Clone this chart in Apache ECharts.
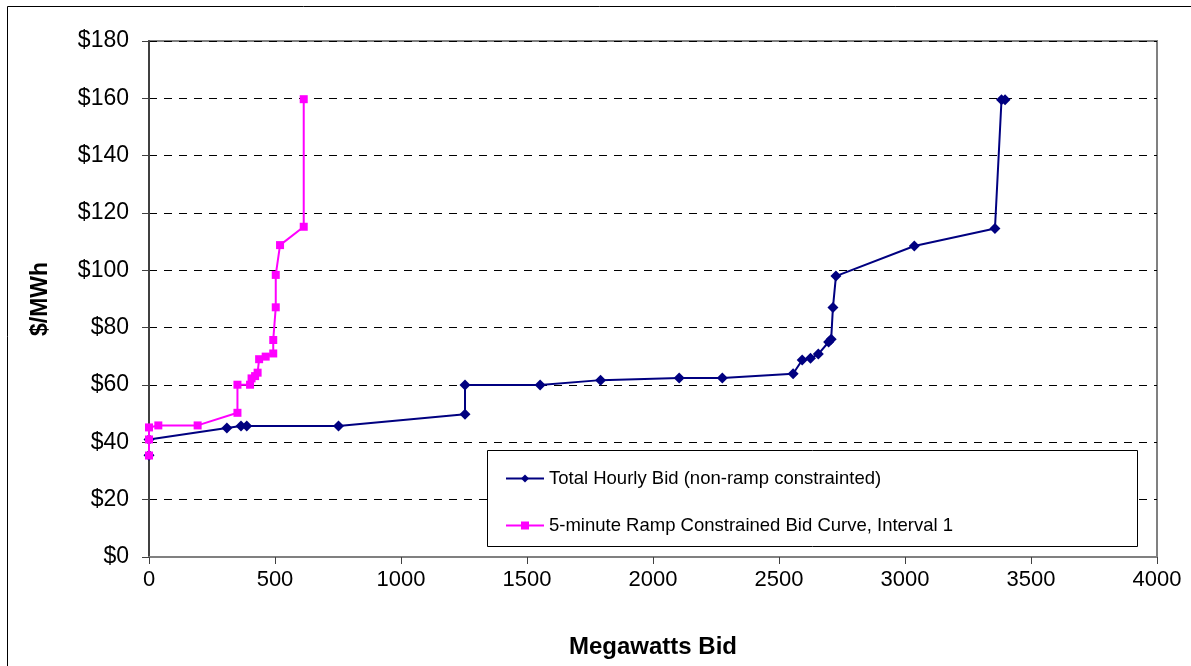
<!DOCTYPE html>
<html>
<head>
<meta charset="utf-8">
<script src="https://cdn.jsdelivr.net/npm/echarts@6/dist/echarts.min.js"></script>
<style>
html,body{margin:0;padding:0;background:#fff;}
#chart{width:1191px;height:666px;}
</style>
</head>
<body>
<div id="chart"></div>
<script>
// Total Hourly Bid (non-ramp constrainted)
const hourlyMW = [0, 0, 309, 365, 388, 752, 1254, 1254, 1552, 1792, 2104, 2275, 2556, 2592, 2625, 2656, 2697, 2707, 2714, 2726, 3037, 3357, 3383, 3397];
const hourlyPrice = [35.5, 41, 45, 45.7, 45.7, 45.7, 49.8, 60, 60, 61.7, 62.4, 62.4, 63.9, 68.7, 69.3, 70.8, 75, 76, 87, 98, 108.5, 114.6, 159.5, 159.5];
// 5-minute Ramp Constrained Bid Curve, Interval 1
const rampMW = [0, 0, 0, 37, 193, 351, 351, 401, 407, 421, 431, 437, 463, 493, 493, 503, 503, 520, 614, 614];
const rampPrice = [35.4, 41, 45.2, 45.9, 45.9, 50.3, 60.1, 60.1, 62.3, 63.1, 64.3, 69, 69.9, 71, 75.7, 87.1, 98.4, 108.8, 115.2, 159.7];

const seriesNames = ['Total Hourly Bid (non-ramp constrainted)', '5-minute Ramp Constrained Bid Curve, Interval 1'];
const xTicks = {min: 0, max: 4000, interval: 500};
const yTicks = {min: 0, max: 180, interval: 20};

const pairs = (xs, ys) => xs.map((x, i) => [x, ys[i]]);

const chart = echarts.init(document.getElementById('chart'), null, {renderer: 'canvas'});
const font = 'Liberation Sans, Arial, sans-serif';
chart.setOption({
  animation: false,
  backgroundColor: '#fff',
  textStyle: {fontFamily: font},
  graphic: [
    {type: 'rect', shape: {x: 7.5, y: 6.5, width: 1200, height: 700}, style: {fill: 'none', stroke: '#000', lineWidth: 1}, z: -10},
    {type: 'rect', shape: {x: 487.5, y: 450.5, width: 650, height: 96}, style: {fill: '#fff', stroke: '#000', lineWidth: 1}, z: 50}
  ],
  grid: {left: 149, top: 41, width: 1008, height: 516, show: true, borderColor: '#808080', borderWidth: 2, backgroundColor: 'transparent'},
  legend: {
    orient: 'vertical', left: 500, top: 464, itemWidth: 38, itemHeight: 10, itemGap: 28,
    textStyle: {fontSize: 18.5, color: '#000', fontFamily: font},
    data: seriesNames, z: 60
  },
  xAxis: {
    type: 'value', min: xTicks.min, max: xTicks.max, interval: xTicks.interval,
    name: 'Megawatts Bid', nameLocation: 'middle', nameGap: 78,
    nameTextStyle: {fontSize: 24, fontWeight: 'bold', color: '#000', fontFamily: font},
    axisLine: {show: true, lineStyle: {color: '#808080', width: 2}},
    axisTick: {show: true, length: 7, lineStyle: {color: '#404040'}},
    axisLabel: {fontSize: 22, color: '#000', margin: 12, fontFamily: font, formatter: v => String(v)},
    splitLine: {show: false}
  },
  yAxis: {
    type: 'value', min: yTicks.min, max: yTicks.max, interval: yTicks.interval,
    name: '$/MWh', nameLocation: 'middle', nameGap: 97, nameRotate: 90,
    nameTextStyle: {fontSize: 23, fontWeight: 'bold', color: '#000', fontFamily: font},
    axisLine: {show: true, lineStyle: {color: '#404040', width: 2}},
    axisTick: {show: true, length: 7, lineStyle: {color: '#404040'}},
    axisLabel: {fontSize: 23, color: '#000', margin: 20, fontFamily: font, formatter: v => '$' + v},
    splitLine: {show: true, lineStyle: {color: '#000', type: [8, 7], width: 1}}
  },
  series: [
    {
      name: seriesNames[0], type: 'line', data: pairs(hourlyMW, hourlyPrice),
      symbol: 'diamond', symbolSize: 11, showAllSymbol: true,
      lineStyle: {color: '#000080', width: 2}, itemStyle: {color: '#000080'}, z: 3
    },
    {
      name: seriesNames[1], type: 'line', data: pairs(rampMW, rampPrice),
      symbol: 'rect', symbolSize: 8, showAllSymbol: true,
      lineStyle: {color: '#FF00FF', width: 2}, itemStyle: {color: '#FF00FF'}, z: 4
    }
  ]
});
</script>
</body>
</html>
